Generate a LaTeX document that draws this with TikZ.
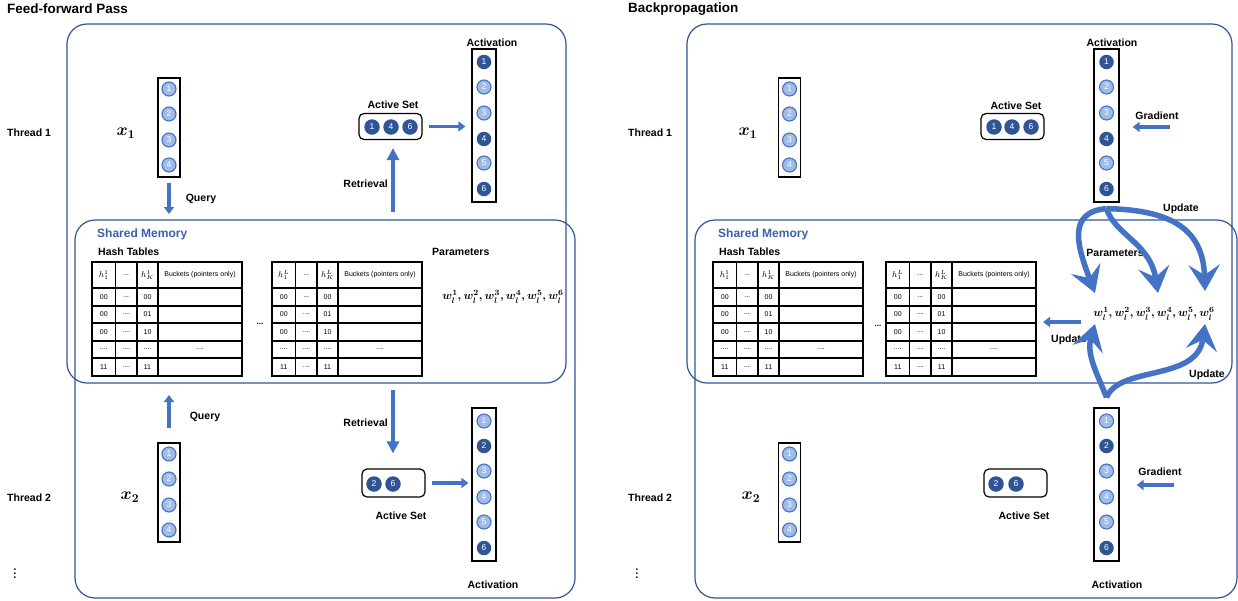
\RequirePackage{fix-cm}
\documentclass[tikz,border=0pt]{standalone}
\usepackage[no-math]{fontspec}
\setmainfont{Liberation Sans}
\usetikzlibrary{arrows.meta}
\definecolor{boxblue}{RGB}{47,85,151}
\definecolor{arrowblue}{RGB}{68,114,196}
\definecolor{darkc}{RGB}{47,85,151}
\definecolor{lightfill}{RGB}{160,188,230}
\definecolor{lightdraw}{RGB}{68,114,196}
\definecolor{smtext}{RGB}{59,96,170}
\newcommand\dthree{...}
\newcommand\dfour{....}
\tikzset{
 lbl/.style={font=\fontsize{10.5}{12}\selectfont\bfseries, inner sep=0pt},
 ttl/.style={font=\fontsize{13.5}{16}\selectfont\bfseries, inner sep=0pt, anchor=west},
 smlbl/.style={font=\fontsize{12}{14}\selectfont\bfseries, text=smtext, inner sep=0pt, anchor=west},
 thread/.style={draw=boxblue, line width=1.2pt, rounded corners=20pt},
 tabline/.style={draw=black, line width=1.1pt},
 cell/.style={font=\fontsize{7}{8}\selectfont, inner sep=0pt},
 hcell/.style={font=\fontsize{8.5}{9}\selectfont, inner sep=0pt},
 vframe/.style={draw=black, line width=1.2pt, minimum width=22pt, inner sep=0pt},
 asframe/.style={draw=black, line width=1.2pt, rounded corners=5pt, minimum width=63pt, minimum height=26pt, inner sep=0pt},
 dk/.style={circle, fill=darkc, minimum size=14.5pt, inner sep=0pt, text=white, font=\fontsize{8.5}{9}\selectfont},
 lt/.style={circle, fill=lightfill, draw=lightdraw, line width=1.1pt, minimum size=14pt, inner sep=0pt, text=white, font=\fontsize{8.5}{9}\selectfont},
 blk/.style={draw=arrowblue, line width=3.5pt, -{Triangle[length=7pt,width=10pt]}},
 blkbig/.style={draw=arrowblue, line width=4.5pt, -{Triangle[length=12pt,width=12pt]}},
 curv/.style={draw=arrowblue, line width=5.5pt, -{Stealth[length=26pt,width=31pt,inset=10pt]}},
 xlab/.style={font=\fontsize{17}{19}\selectfont\boldmath, inner sep=0pt},
 wlab/.style={font=\fontsize{11.5}{13}\selectfont\boldmath, inner sep=0pt},
 vdot/.style={inner sep=0pt, font=\fontsize{15}{16}\selectfont\boldmath},
}
\newcommand\hashtab[4]{%
\begin{scope}[shift={(#2,#3)}]
 \draw[tabline] (0,0) rectangle (150,114);
 \foreach \tx in {23.5,45,66} {\draw[tabline] (\tx,0) -- (\tx,114);}
 \foreach \ty in {26,44,61,79,96} {\draw[tabline] (0,\ty) -- (150,\ty);}
 \node[hcell] (#1h1) at (11.75,13) {$h_1^{#4}$};
 \node[cell] (#1h2) at (34.25,13) {\dthree};
 \node[hcell] (#1h3) at (55.5,13) {$h_K^{#4}$};
 \node[cell] (#1h4) at (108,13) {Buckets (pointers only)};
 \foreach \rr/\ry/\ca/\cb/\cc/\cd in {1/35/00/\dthree/00/{},2/52.5/00/\dfour/01/{},3/70/00/\dfour/10/{},4/87.5/\dfour/\dfour/\dfour/\dfour,5/105/11/\dfour/11/{}} {
   \node[cell] (#1r\rr-a) at (11.75,\ry) {\ca};
   \node[cell] (#1r\rr-b) at (34.25,\ry) {\cb};
   \node[cell] (#1r\rr-c) at (55.5,\ry) {\cc};
   \node[cell] (#1r\rr-d) at (108,\ry) {\cd};
 }
 \coordinate (#1east) at (150,57);
\end{scope}}
\newcommand\vecfour[3]{% name, x, top
 \node[vframe, minimum height=99pt] (#1) at (#2,#3+49.5) {};
 \foreach \i/\dy in {1/11,2/36,3/62,4/87} {\node[lt] (#1c\i) at (#2,#3+\dy) {\i};}
}
\begin{document}
\begin{tikzpicture}[x=1pt,y=-1pt]
\useasboundingbox (0,0) rectangle (1238,600);

% ================= LEFT PANEL =================
\node[ttl] (titleL) at (7,9) {Feed-forward Pass};
\node[lbl, anchor=west] (thL1) at (7,133) {Thread 1};
\node[lbl, anchor=west] (thL2) at (7,498) {Thread 2};
\node[vdot] (dotsL) at (15,571) {$\vdots$};

\draw[thread] (67,24) rectangle (566,383);
\draw[thread] (75,220) rectangle (575,598);

\node[smlbl] (smL) at (97,234) {Shared Memory};
\node[lbl, anchor=west] (htL) at (98,252) {Hash Tables};
\node[lbl, anchor=west] (parL) at (432,252) {Parameters};
\node[wlab] (wL) at (503,297) {$w_l^1, w_l^2, w_l^3, w_l^4, w_l^5, w_l^6$};
\hashtab{tL1}{92}{262}{1}
\hashtab{tL2}{272}{262}{L}
\node[cell, font=\fontsize{8}{8}\selectfont\bfseries] (tdotsL) at (260,324) {\dthree};

% thread 1
\node[xlab] (x1Llab) at (126,133) {$x_1$};
\vecfour{x1L}{169}{78}
\coordinate (q1e) at (169,214);
\draw[blk, shorten <=5pt] (x1L.south) -- (q1e);
\node[lbl] (qL1) at (201,199) {Query};

\node[lbl] (asLlab1) at (393,105) {Active Set};
\node[asframe] (asL1) at (390.5,126.5) {};
\node[dk, minimum size=15.5pt] (asL1a) at (372,127) {1};
\node[dk, minimum size=15.5pt] (asL1b) at (391,127) {4};
\node[dk, minimum size=15.5pt] (asL1c) at (410,127) {6};

\node[vframe, minimum width=24pt, minimum height=153pt] (aL1) at (484,125.5) {};
\foreach \i/\yy/\s in {1/62/dk,2/87/lt,3/113/lt,4/139/dk,5/163/lt,6/189/dk} {\node[\s] (aL1c\i) at (484,\yy) {\i};}
\node[lbl] (actL1) at (492,43) {Activation};

\draw[blk, shorten <=6pt, shorten >=6pt] (asL1.east) -- (asL1.east -| aL1.west);
\coordinate (r1s) at (393,212);
\draw[blkbig, shorten >=8pt] (r1s) -- (r1s |- asL1.south);
\node[lbl, anchor=east] (retL1) at (388,184) {Retrieval};

% thread 2
\node[xlab] (x2Llab) at (130,497) {$x_2$};
\vecfour{x2L}{169}{443}
\coordinate (q2e) at (169,395);
\draw[blk, shorten <=14pt] (x2L.north) -- (q2e);
\node[lbl] (qL2) at (205,417) {Query};

\node[asframe, minimum height=28pt] (asL2) at (393.5,483) {};
\node[dk, minimum size=15.5pt] (asL2a) at (374,484) {2};
\node[dk, minimum size=15.5pt] (asL2b) at (393,484) {6};
\node[lbl] (asLlab2) at (401,516) {Active Set};

\node[vframe, minimum width=24pt, minimum height=153pt] (aL2) at (484,484.5) {};
\foreach \i/\yy/\s in {1/421/lt,2/446/dk,3/471/lt,4/497/lt,5/522/lt,6/548/dk} {\node[\s] (aL2c\i) at (484,\yy) {\i};}
\node[lbl] (actL2) at (493,585) {Activation};

\draw[blk, shorten <=6pt, shorten >=3pt] (asL2.east) -- (asL2.east -| aL2.west);
\coordinate (r2s) at (393,390);
\draw[blkbig, shorten >=15pt] (r2s) -- (r2s |- asL2.north);
\node[lbl, anchor=east] (retL2) at (388,423) {Retrieval};

% ================= RIGHT PANEL =================
\node[ttl] (titleR) at (628,9) {Backpropagation};
\node[lbl, anchor=west] (thR1) at (628,133) {Thread 1};
\node[lbl, anchor=west] (thR2) at (628,498) {Thread 2};
\node[vdot] (dotsR) at (637,571) {$\vdots$};

\draw[thread] (687,24) rectangle (1232,383);
\draw[thread] (695,220) rectangle (1237,598);

\node[smlbl] (smR) at (718,234) {Shared Memory};
\node[lbl, anchor=west] (htR) at (719,252) {Hash Tables};
\node[lbl] (parR) at (1115,253) {Parameters};
\node[wlab] (wR) at (1154,314) {$w_l^1, w_l^2, w_l^3, w_l^4, w_l^5, w_l^6$};
\hashtab{tR1}{713}{262}{1}
\hashtab{tR2}{886}{262}{L}
\node[cell, font=\fontsize{8}{8}\selectfont\bfseries] (tdotsR) at (878,326) {\dthree};

% thread 1
\node[xlab] (x1Rlab) at (748,133) {$x_1$};
\vecfour{x1R}{789.5}{78}
\node[lbl] (asRlab1) at (1016,106) {Active Set};
\node[asframe] (asR1) at (1012.5,126.5) {};
\node[dk, minimum size=15.5pt] (asR1a) at (994,127) {1};
\node[dk, minimum size=15.5pt] (asR1b) at (1012,127) {4};
\node[dk, minimum size=15.5pt] (asR1c) at (1031,127) {6};

\node[vframe, minimum width=25pt, minimum height=153pt] (aR1) at (1106.5,125.5) {};
\foreach \i/\yy/\s in {1/62/dk,2/87/lt,3/113/lt,4/139/dk,5/163/lt,6/189/dk} {\node[\s] (aR1c\i) at (1106.5,\yy) {\i};}
\node[lbl] (actR1) at (1112,43) {Activation};

\node[lbl] (grR1) at (1157,116) {Gradient};
\coordinate (g1s) at (1170,127);
\draw[blk, shorten >=13pt] (g1s) -- (g1s -| aR1.east);

% thread 2
\node[xlab] (x2Rlab) at (751,497) {$x_2$};
\vecfour{x2R}{789.5}{443}
\node[asframe, minimum height=28pt] (asR2) at (1015.5,483) {};
\node[dk, minimum size=15.5pt] (asR2a) at (996,484) {2};
\node[dk, minimum size=15.5pt] (asR2b) at (1016,484) {6};
\node[lbl] (asRlab2) at (1024,516) {Active Set};

\node[vframe, minimum width=25pt, minimum height=153pt] (aR2) at (1106.5,484.5) {};
\foreach \i/\yy/\s in {1/421/lt,2/446/dk,3/471/lt,4/497/lt,5/522/lt,6/548/dk} {\node[\s] (aR2c\i) at (1106.5,\yy) {\i};}
\node[lbl] (actR2) at (1117,585) {Activation};

\node[lbl] (grR2) at (1160,472) {Gradient};
\coordinate (g2s) at (1174,485);
\draw[blk, shorten >=17pt] (g2s) -- (g2s -| aR2.east);

% updates
\coordinate (u1s) at (1081,322);
\draw[blk, shorten >=7pt] (u1s) -- (u1s -| tR2east);
\node[lbl] (upL) at (1069,340) {Update};
\node[lbl] (upT) at (1181,209) {Update};
\node[lbl] (upB) at (1207,375) {Update};

\coordinate (ctop) at ([yshift=-6pt]aR1.south);
\coordinate (cbot) at ([yshift=10pt]aR2.north);
\coordinate (tw1) at (1095,293);
\coordinate (tw4) at (1158,293);
\coordinate (tw6) at (1205,291);
\coordinate (bw1) at (1095,324);
\coordinate (bw6) at (1205,324);
\draw[curv] (ctop) .. controls (1066,212) and (1078,248) .. (tw1);
\draw[curv] (ctop) .. controls (1115,235) and (1150,243) .. (tw4);
\draw[curv] (ctop) .. controls (1170,210) and (1203,228) .. (tw6);
\draw[curv] (cbot) .. controls (1098,375) and (1086,355) .. (bw1);
\draw[curv] (cbot) .. controls (1120,365) and (1197,382) .. (bw6);
\end{tikzpicture}
\end{document}
